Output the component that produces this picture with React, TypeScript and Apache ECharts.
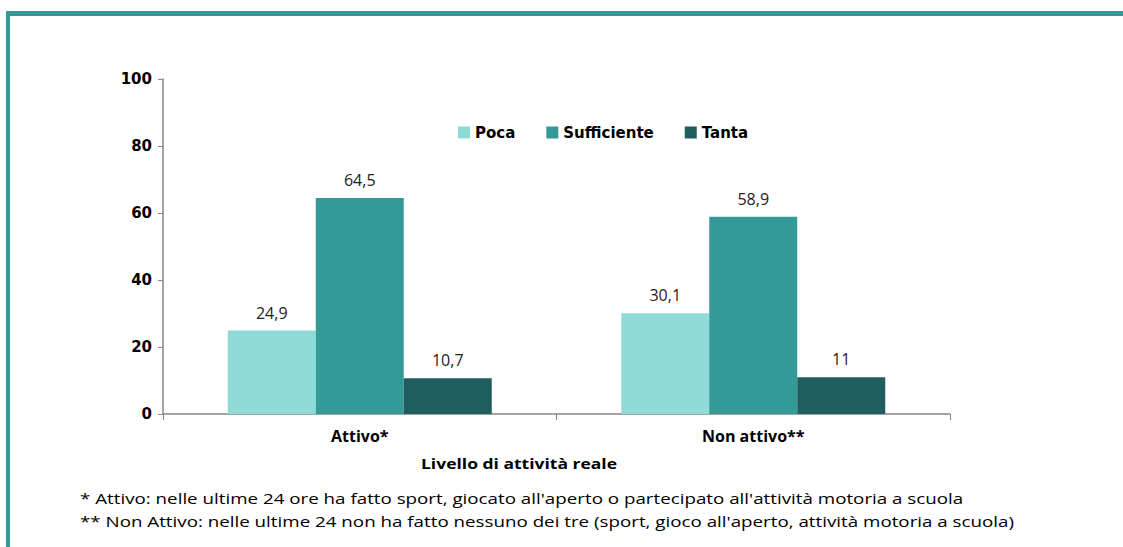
import React, { useEffect, useRef } from "react";
import * as echarts from "echarts";

const categories = ["Attivo*", "Non attivo**"];
const seriesNames = ["Poca", "Sufficiente", "Tanta"];
const poca = [24.9, 30.1];
const sufficiente = [64.5, 58.9];
const tanta = [10.7, 11];
const colors = ["#8fdbd8", "#339a98", "#1f5e5e"];
const yTicks = [0, 20, 40, 60, 80, 100];
const axisTitle = "Livello di attività reale";
const footnotes = [
  "* Attivo: nelle ultime 24 ore ha fatto sport, giocato all'aperto o partecipato all'attività motoria a scuola",
  "** Non Attivo: nelle ultime 24 non ha fatto nessuno dei tre (sport, gioco all'aperto, attività motoria a scuola)",
];

export default function App() {
  const ref = useRef<HTMLDivElement>(null);
  useEffect(() => {
    document.body.style.margin = "0";
    const chart = echarts.init(ref.current!, null, { renderer: "svg" });
    const values = [poca, sufficiente, tanta];
    chart.setOption({
      animation: false,
      backgroundColor: "#ffffff",
      legend: {
        data: seriesNames,
        left: 453,
        top: 120,
        itemWidth: 12,
        itemHeight: 12,
        itemGap: 31,
        icon: "rect",
        textStyle: { fontFamily: "DejaVu Sans", fontWeight: "bold", fontSize: 15, color: "#000" },
      },
      grid: { left: 163, right: 173, top: 79, bottom: 133 },
      xAxis: {
        type: "category",
        data: categories,
        axisLine: { lineStyle: { color: "#868686", width: 1.5 } },
        axisTick: { show: true, length: 6, lineStyle: { color: "#868686" } },
        axisLabel: { margin: 14, fontFamily: "Open Sans", fontWeight: "bold", fontSize: 16, color: "#000" },
      },
      yAxis: {
        type: "value",
        min: 0,
        max: 100,
        interval: 20,
        splitLine: { show: false },
        axisLine: { show: true, lineStyle: { color: "#868686", width: 1.5 } },
        axisTick: { show: true, length: 5, lineStyle: { color: "#868686" } },
        axisLabel: {
          margin: 11,
          fontFamily: "DejaVu Sans",
          fontWeight: "bold",
          fontSize: 15,
          color: "#000",
          formatter: (v: number) => (yTicks.includes(v) ? String(v) : ""),
        },
      },
      series: seriesNames.map((name, i) => ({
        name,
        type: "bar",
        data: values[i],
        barWidth: 88,
        barGap: "0%",
        itemStyle: { color: colors[i] },
        label: {
          show: true,
          position: "top",
          distance: 10,
          fontFamily: "Open Sans",
          fontSize: 16,
          color: "#222",
          formatter: (p: any) => String(p.value).replace(".", ","),
        },
      })),
      graphic: [
        { type: "rect", shape: { x: 6, y: 11, width: 1117, height: 5 }, style: { fill: "#339a98" } },
        { type: "rect", shape: { x: 6, y: 11, width: 4, height: 536 }, style: { fill: "#339a98" } },
        {
          type: "text",
          x: 421,
          y: 464,
          scaleX: 1.25,
          style: {
            text: axisTitle,
            x: 0,
            y: 0,
            textAlign: "left",
            textVerticalAlign: "middle",
            font: "bold 14px 'Open Sans'",
            fill: "#000",
          },
        },
        {
          type: "text",
          x: 80,
          y: 499,
          scaleX: 1.34,
          style: {
            text: footnotes[0],
            x: 0,
            y: 0,
            textAlign: "left",
            textVerticalAlign: "middle",
            font: "14px 'Open Sans'",
            fill: "#000",
          },
        },
        {
          type: "text",
          x: 80,
          y: 522,
          scaleX: 1.34,
          style: {
            text: footnotes[1],
            x: 0,
            y: 0,
            textAlign: "left",
            textVerticalAlign: "middle",
            font: "14px 'Open Sans'",
            fill: "#000",
          },
        },
      ],
    });
    return () => chart.dispose();
  }, []);
  return <div ref={ref} style={{ width: 1123, height: 547 }} />;
}
